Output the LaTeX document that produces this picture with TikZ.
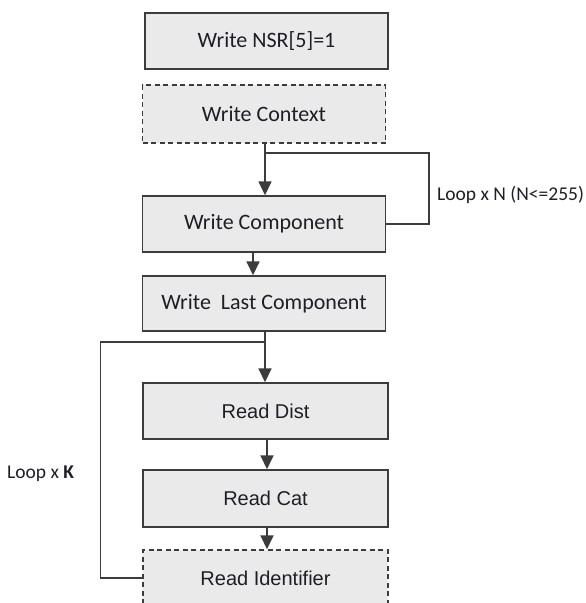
\documentclass[tikz,border=0pt]{standalone}
\usepackage{fontspec}
\setmainfont{Carlito}
\newfontfamily\readfont{Liberation Sans}
\usetikzlibrary{arrows.meta}
\definecolor{boxfill}{HTML}{EAEAEA}
\definecolor{boxline}{HTML}{3C3C3C}
\definecolor{boxtext}{HTML}{1E1E28}

\begin{document}
\begin{tikzpicture}[x=1pt, y=-1pt,
    stage/.style={draw=boxline, line width=1.4pt, fill=boxfill, text=boxtext,
        minimum width=243pt, minimum height=56pt, inner sep=0pt,
        font=\fontsize{22}{26}\selectfont},
    readstage/.style={stage, minimum width=245pt, font=\readfont\fontsize{20}{24}\selectfont},
    optional/.style={dashed, dash pattern=on 5pt off 3.5pt},
    flow/.style={draw=boxline, line width=1.6pt, -{Triangle[length=14pt, width=13pt]}},
    loopline/.style={draw=boxline, line width=1.6pt},
    looplabel/.style={anchor=west, text=boxtext, inner sep=0pt, font=\fontsize{19.5}{22}\selectfont}]
\useasboundingbox (0,0) rectangle (586,603);
\node[stage] (nsr) at (266.5,41) {Write NSR[5]=1};
\node[stage, optional, minimum height=58pt] (ctx) at (264,114) {Write Context};
\node[stage] (comp) at (264,224) {Write Component};
\node[stage, minimum height=55pt] (last) at (264,303.5) {Write\ \ Last Component};
\node[readstage] (dist) at (265.5,411) {Read Dist};
\node[readstage, minimum height=57pt] (cat) at (265.5,498.5) {Read Cat};
\node[readstage, optional] (ident) at (265.5,578) {Read Identifier};
\coordinate (joinN) at (265,153);
\coordinate (joinK) at (265,342);
\node[looplabel] (loopN) at (437,195) {Loop x N (N<=255)};
\node[looplabel] (loopK) at (7,474) {Loop x \textbf{K}};
\draw[flow] (ctx.south -| joinN) -- (comp.north -| joinN);
\draw[loopline] (comp.east) -- ++(43,0) |- (joinN);
\draw[flow] ([xshift=-11pt]comp.south) -- ([xshift=-11pt]last.north);
\draw[flow] (last.south -| joinK) -- (dist.north -| joinK);
\draw[loopline] (ident.west) -- ++(-42,0) |- (joinK);
\draw[flow] ([xshift=1.5pt]dist.south) -- ([xshift=1.5pt]cat.north);
\draw[flow] ([xshift=1.5pt]cat.south) -- ([xshift=1.5pt]ident.north);
\end{tikzpicture}
\end{document}
